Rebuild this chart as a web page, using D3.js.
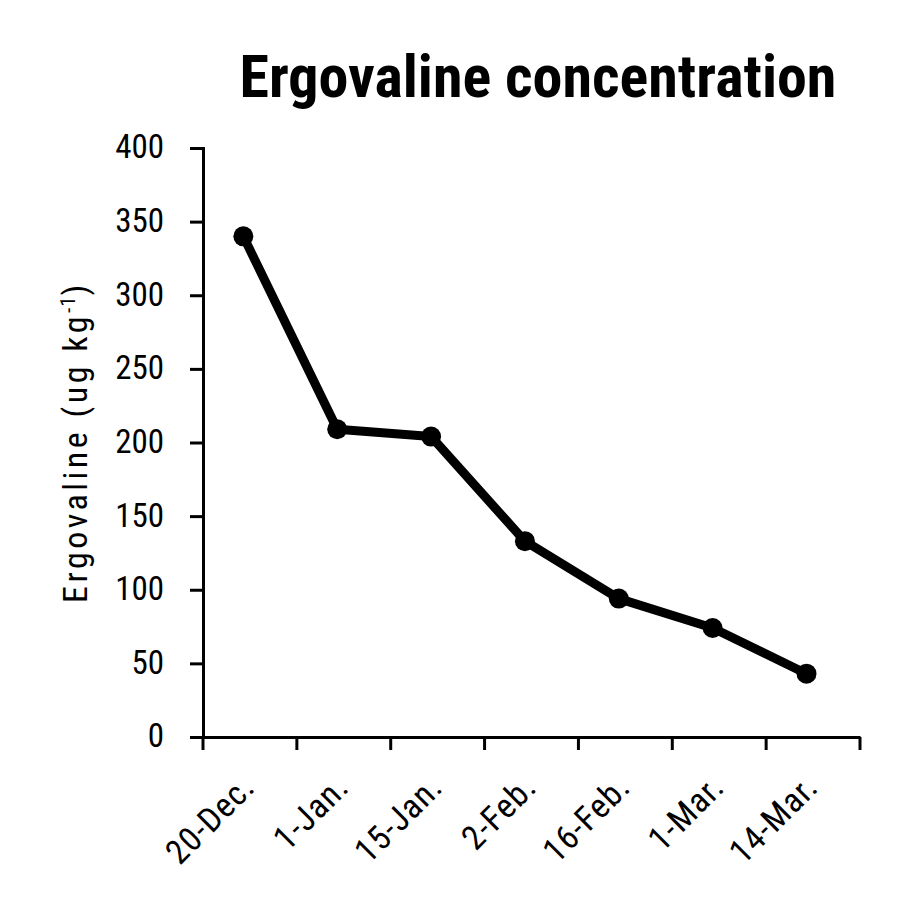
<!DOCTYPE html>
<html>
<head>
<meta charset="utf-8">
<script src="https://cdn.jsdelivr.net/npm/d3@7"></script>
<style>
  html, body { margin: 0; padding: 0; background: #fff; }
  svg text { font-family: "Liberation Sans Narrow", "Arial Narrow", "Roboto Condensed", sans-serif; fill: #000; }
</style>
</head>
<body>
<svg id="chart" width="907" height="899"></svg>
<script>
const categories = ["20-Dec.", "1-Jan.", "15-Jan.", "2-Feb.", "16-Feb.", "1-Mar.", "14-Mar."];
const values = [340, 209, 204, 133, 94, 74, 43];
const yTicks = [0, 50, 100, 150, 200, 250, 300, 350, 400];
const title = "Ergovaline concentration";

const svg = d3.select("#chart");
const margin = { left: 203, right: 47, top: 148, bottom: 162 };
const W = 907, H = 899;

const x = d3.scaleBand().domain(categories).range([margin.left, W - margin.right]).paddingInner(0).paddingOuter(0);
const y = d3.scaleLinear().domain([0, 400]).range([H - margin.bottom, margin.top]);

// title
svg.append("text")
  .attr("x", 538).attr("y", 97)
  .attr("text-anchor", "middle")
  .style("font-size", "60px").style("font-weight", "bold")
  .text(title);

// y axis
const yAxis = svg.append("g")
  .attr("transform", `translate(${margin.left},0)`)
  .call(d3.axisLeft(y).tickValues(yTicks).tickSize(13).tickPadding(26).tickFormat(d3.format("d")));
yAxis.select(".domain").attr("stroke", "#000").attr("stroke-width", 3);
yAxis.selectAll(".tick line").attr("stroke", "#000").attr("stroke-width", 3);
yAxis.selectAll(".tick text").style("font-size", "33px").attr("dy", "0.30em");

// x axis
const xAxis = svg.append("g")
  .attr("transform", `translate(0,${y(0)})`)
  .call(d3.axisBottom(x).tickSize(0).tickFormat(""));
xAxis.select(".domain").attr("stroke", "#000").attr("stroke-width", 3);
// boundary ticks between categories
const boundaries = categories.map(c => x(c)).concat([x(categories[categories.length - 1]) + x.bandwidth()]);
xAxis.selectAll("line.bnd").data(boundaries).enter().append("line")
  .attr("class", "bnd")
  .attr("x1", d => d).attr("x2", d => d)
  .attr("y1", 0).attr("y2", 13)
  .attr("stroke", "#000").attr("stroke-width", 3);
// rotated category labels
xAxis.selectAll("text.lbl").data(categories).enter().append("text")
  .attr("class", "lbl")
  .attr("transform", d => `translate(${x(d) + x.bandwidth() / 2 + 7},${52}) rotate(-45)`)
  .attr("text-anchor", "end")
  .style("font-size", "34px")
  .style("letter-spacing", "1px")
  .text(d => d);

// y label
svg.append("text")
  .attr("transform", `translate(87,442) rotate(-90)`)
  .attr("text-anchor", "middle")
  .style("font-size", "34px")
  .style("letter-spacing", "3.5px")
  .html('Ergovaline (ug kg<tspan baseline-shift="super" style="font-size:21px;letter-spacing:1px">-1</tspan>)');

// line
const px = d => x(d) + x.bandwidth() * 0.43;
const line = d3.line().x((d, i) => px(categories[i])).y(d => y(d));
svg.append("path")
  .datum(values)
  .attr("d", line)
  .attr("fill", "none")
  .attr("stroke", "#000")
  .attr("stroke-width", 9)
  .attr("stroke-linejoin", "round");

svg.selectAll("circle.pt").data(values).enter().append("circle")
  .attr("class", "pt")
  .attr("cx", (d, i) => px(categories[i]))
  .attr("cy", d => y(d))
  .attr("r", 10)
  .attr("fill", "#000");
</script>
</body>
</html>
